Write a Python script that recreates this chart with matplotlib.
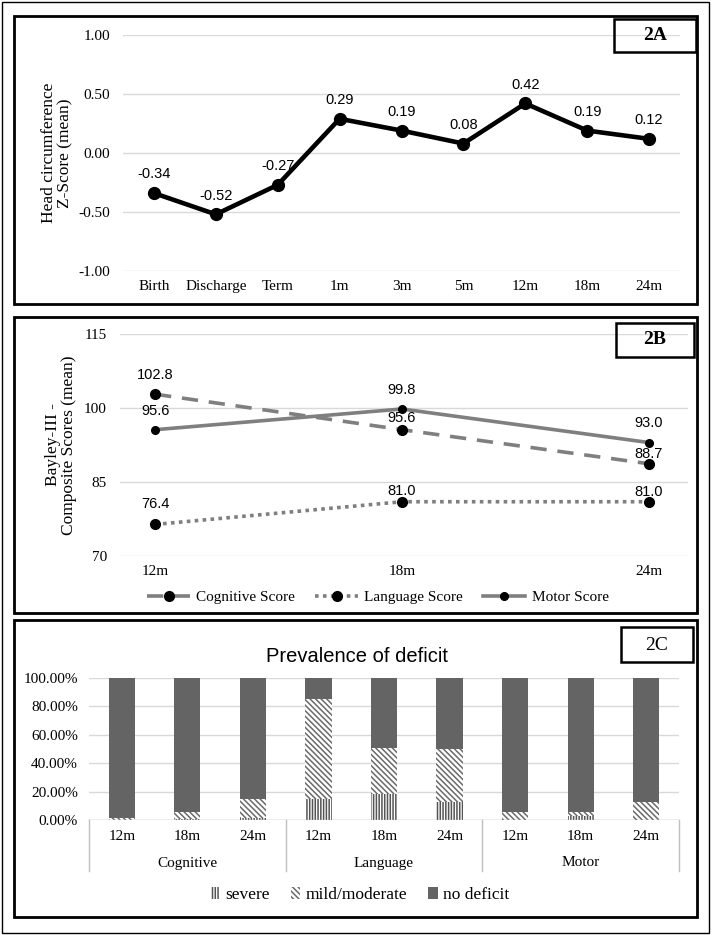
import numpy as np
import matplotlib
matplotlib.use("Agg")
import matplotlib.pyplot as plt
from matplotlib.patches import Rectangle
from matplotlib.lines import Line2D
import matplotlib.transforms as mtransforms

# ---- data ----
hc_labels = ["Birth", "Discharge", "Term", "1m", "3m", "5m", "12m", "18m", "24m"]
hc_zscore = [-0.34, -0.52, -0.27, 0.29, 0.19, 0.08, 0.42, 0.19, 0.12]

bay_labels = ["12m", "18m", "24m"]
cognitive = [102.8, 95.6, 88.7]
language = [76.4, 81.0, 81.0]
motor = [95.6, 99.8, 93.0]

def_groups = ["Cognitive", "Language", "Motor"]
def_ages = ["12m", "18m", "24m"]
severe = [0.0, 1.0, 1.6, 14.9, 18.4, 13.0, 0.0, 3.0, 0.0]
mild = [1.2, 4.5, 13.3, 70.2, 32.4, 37.1, 5.4, 2.7, 13.0]
no_deficit = [100 - s - m for s, m in zip(severe, mild)]

W, H = 714, 935
SERIF = "Liberation Serif"
SANS = ["Liberation Sans Narrow", "Liberation Sans"]
GRID = "#d9d9d9"
GRAY = "#7f7f7f"
TICK = 11
plt.rcParams["hatch.linewidth"] = 1.1

fig = plt.figure(figsize=(W / 100, H / 100), dpi=100)


def px_axes(x0, y0, x1, y1):
    return fig.add_axes([x0 / W, 1 - y1 / H, (x1 - x0) / W, (y1 - y0) / H])


def px_rect(x0, y0, x1, y1, lw):
    fig.add_artist(Rectangle((x0 / W, 1 - y1 / H), (x1 - x0) / W, (y1 - y0) / H,
                             transform=fig.transFigure, fill=False,
                             edgecolor="black", linewidth=lw))


def px_text(x, y, s, **kw):
    fig.text(x / W, 1 - y / H, s, ha="center", va="center", **kw)


def clean(ax):
    for sp in ax.spines.values():
        sp.set_visible(False)
    ax.tick_params(length=0)
    ax.yaxis.grid(True, color=GRID, linewidth=1.0)
    ax.set_axisbelow(True)
    for lab in ax.get_xticklabels() + ax.get_yticklabels():
        lab.set_fontfamily(SERIF)
        lab.set_fontsize(TICK)


# frames
px_rect(1.5, 1.5, 709, 933, 1.0)
px_rect(14, 16, 697, 304, 2.0)
px_rect(14, 317, 697, 613, 2.0)
px_rect(14, 620, 697, 917, 2.0)

# ---- 2A ----
axA = px_axes(123, 35, 680, 271)
xa = np.arange(len(hc_labels))
axA.plot(xa, hc_zscore, color="black", linewidth=3.3, marker="o", markersize=8.5)
axA.set_xlim(-0.5, len(hc_labels) - 0.5)
axA.set_ylim(-1, 1)
axA.set_yticks([-1, -0.5, 0, 0.5, 1])
axA.set_yticklabels([f"{v:.2f}" for v in [-1, -0.5, 0, 0.5, 1]])
axA.set_xticks(xa)
axA.set_xticklabels(hc_labels)
clean(axA)
axA.tick_params(axis="y", pad=9.5)
axA.tick_params(axis="x", pad=6.5)
for x, v in zip(xa, hc_zscore):
    axA.annotate(f"{v:.2f}", (x, v), xytext=(0, 13.5), textcoords="offset points",
                 ha="center", va="center", fontsize=10.5, family=SANS)
px_text(57, 153, "Head circumference\nZ-Score (mean)", rotation=90,
        fontsize=12.5, family=SERIF, linespacing=1.0)
px_rect(614, 19, 696, 52, 1.8)
px_text(655, 36, "2A", fontsize=14, family=SERIF, fontweight="bold")

# ---- 2B ----
axB = px_axes(120, 334, 688, 556)
xb = np.arange(len(bay_labels))
axB.plot(xb, cognitive, color=GRAY, linewidth=2.6, dashes=(4.5, 3),
         marker="o", markersize=7, markerfacecolor="black", markeredgecolor="black",
         label="Cognitive Score")
axB.plot(xb, language, color=GRAY, linewidth=2.6, dashes=(1, 1.2),
         dash_capstyle="butt", marker="o", markersize=7, markerfacecolor="black",
         markeredgecolor="black", label="Language Score")
axB.plot(xb, motor, color=GRAY, linewidth=2.6, marker="o", markersize=5.5,
         markerfacecolor="black", markeredgecolor="black", label="Motor Score")
axB.set_xlim(-35 / 246, 2 + 39 / 246)
axB.set_ylim(70, 115)
axB.set_yticks([70, 85, 100, 115])
axB.set_xticks(xb)
axB.set_xticklabels(bay_labels)
clean(axB)
axB.tick_params(axis="y", pad=9.5)
axB.tick_params(axis="x", pad=6.5)
offsets_b = {"cog": [19, 12, 10], "lang": [20, 11, 10], "mot": [19, 19, 20]}
for key, ser in (("cog", cognitive), ("lang", language), ("mot", motor)):
    for x, v, off in zip(xb, ser, offsets_b[key]):
        axB.annotate(f"{v:.1f}", (x, v), xytext=(0, off * 0.72), textcoords="offset points",
                     ha="center", va="center", fontsize=10.5, family=SANS)
axB.legend(loc="center", bbox_to_anchor=(378 / W, 1 - 597 / H),
           bbox_transform=fig.transFigure, ncol=3, frameon=False,
           handlelength=2.8, columnspacing=1.3, handletextpad=0.4,
           prop={"family": SERIF, "size": TICK})
px_text(61, 445, "Bayley-III -\nComposite Scores (mean)", rotation=90,
        fontsize=12.5, family=SERIF, linespacing=1.0)
px_rect(616, 323, 694, 357, 1.8)
px_text(655, 340, "2B", fontsize=14, family=SERIF, fontweight="bold")

# ---- 2C ----
axC = px_axes(89, 678, 679, 820)
xc = np.arange(len(severe))
bw = 0.4
axC.bar(xc, severe, bw, color="white", edgecolor="#555555", hatch="||||||",
        linewidth=0, label="severe")
axC.bar(xc, mild, bw, bottom=severe, color="white", edgecolor="#6a6a6a",
        hatch="\\\\\\\\\\\\", linewidth=0, label="mild/moderate")
bottom2 = [s + m for s, m in zip(severe, mild)]
axC.bar(xc, no_deficit, bw, bottom=bottom2, color="#646464", linewidth=0,
        label="no deficit")
axC.set_xlim(-0.5, len(severe) - 0.5)
axC.set_ylim(0, 100)
axC.set_yticks(np.arange(0, 101, 20))
axC.set_yticklabels([f"{v:.2f}%" for v in np.arange(0, 101, 20)])
axC.set_xticks(xc)
axC.set_xticklabels(def_ages * len(def_groups))
clean(axC)
axC.tick_params(axis="y", pad=8)
axC.tick_params(axis="x", pad=7)
axC.axhline(0, color="#bfbfbf", linewidth=1.0)
trans = mtransforms.blended_transform_factory(axC.transData, axC.transAxes)
for b in np.arange(len(def_groups) + 1) * 3 - 0.5:
    axC.add_line(Line2D([b, b], [0, -51 / 142], transform=trans, color="#bfbfbf",
                        linewidth=1.0, clip_on=False))
for i, g in enumerate(def_groups):
    axC.text(i * 3 + 1, -43 / 142, g, transform=trans, ha="center", va="center",
             fontsize=TICK, family=SERIF)
axC.legend(loc="center", bbox_to_anchor=(360 / W, 1 - 895 / H),
           bbox_transform=fig.transFigure, ncol=3, frameon=False,
           handlelength=0.55, handleheight=0.7, handletextpad=0.3, columnspacing=1.2,
           prop={"family": SERIF, "size": 12.5})
px_text(357, 657, "Prevalence of deficit", fontsize=14.5, family=SANS)
px_rect(621, 627, 693, 662, 1.8)
px_text(657, 645, "2C", fontsize=14, family=SERIF)

fig.savefig("out.png", dpi=100)
